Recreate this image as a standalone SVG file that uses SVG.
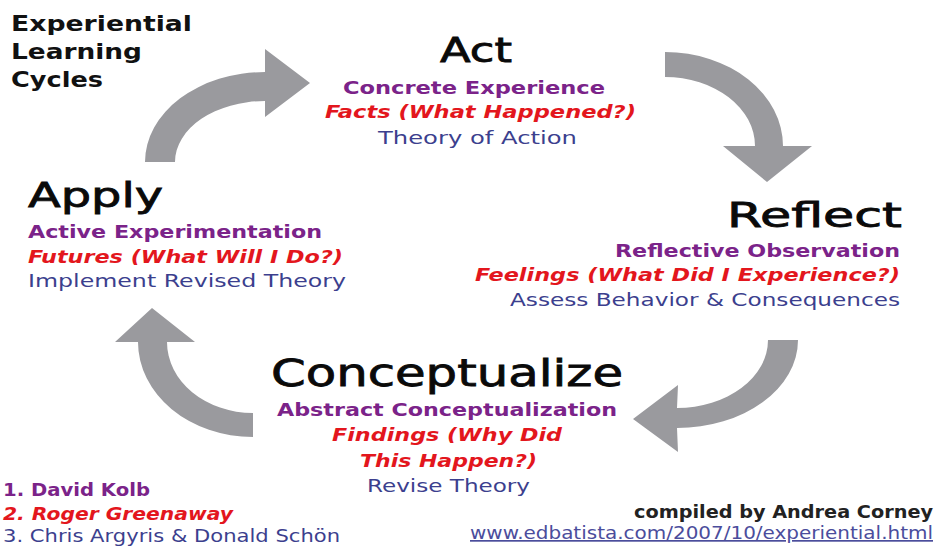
<svg xmlns="http://www.w3.org/2000/svg" width="937" height="548" viewBox="0 0 937 548">
<style>
text{font-family:"DejaVu Sans","Liberation Sans",sans-serif}
.t{font-size:22px;font-weight:bold;fill:#111}
.h{font-size:34px;fill:#0a0a0a;stroke:#0a0a0a;stroke-width:0.8}
.p{font-size:18px;font-weight:bold;fill:#7b2389}
.r{font-size:18px;font-weight:bold;font-style:italic;fill:#e3161d}
.b{font-size:18px;fill:#3c3f8e}
.s{font-size:17px}
.arrow{fill:#9a9a9e}
</style>
<rect width="937" height="548" fill="#fff"/>
<g id="connectors">
<path class="arrow" d="M145,162 A120,90 0 0 1 265,72 L265,49 L310,83 L265,117 L265,101 A90,61 0 0 0 175,162 Z"/>
<path class="arrow" d="M665,52 A118,94 0 0 1 783,146 L812,146 L767,182 L723,146 L755,146 A90,69 0 0 0 665,77 Z"/>
<path class="arrow" d="M798,340 A121,88 0 0 1 677,428 L678,452 L633,419 L678,385 L677,408 A91,68 0 0 0 768,340 Z"/>
<path class="arrow" d="M253,437 A115,95 0 0 1 138,342 L115,342 L152,308 L195,342 L167,342 A86,71 0 0 0 253,413 Z"/>
</g>
<g id="title">
<text class="t" x="11" y="31" textLength="181" lengthAdjust="spacingAndGlyphs">Experiential</text>
<text class="t" x="11" y="59" textLength="131" lengthAdjust="spacingAndGlyphs">Learning</text>
<text class="t" x="11" y="87" textLength="92" lengthAdjust="spacingAndGlyphs">Cycles</text>
</g>
<g id="act">
<text class="h" x="440" y="62" textLength="72" lengthAdjust="spacingAndGlyphs">Act</text>
<text class="p" x="343" y="94" textLength="262" lengthAdjust="spacingAndGlyphs">Concrete Experience</text>
<text class="r" x="325" y="118" textLength="311" lengthAdjust="spacingAndGlyphs">Facts (What Happened?)</text>
<text class="b" x="378" y="144" textLength="199" lengthAdjust="spacingAndGlyphs">Theory of Action</text>
</g>
<g id="reflect">
<text class="h" x="727" y="227" textLength="175" lengthAdjust="spacingAndGlyphs">Reflect</text>
<text class="p" x="615" y="257" textLength="285" lengthAdjust="spacingAndGlyphs">Reflective Observation</text>
<text class="r" x="475" y="281" textLength="425" lengthAdjust="spacingAndGlyphs">Feelings (What Did I Experience?)</text>
<text class="b" x="510" y="306" textLength="390" lengthAdjust="spacingAndGlyphs">Assess Behavior &amp; Consequences</text>
</g>
<g id="conceptualize">
<text class="h" x="271" y="386" style="font-size:38px" textLength="352" lengthAdjust="spacingAndGlyphs">Conceptualize</text>
<text class="p" x="277" y="416" textLength="340" lengthAdjust="spacingAndGlyphs">Abstract Conceptualization</text>
<text class="r" x="332" y="441" textLength="230" lengthAdjust="spacingAndGlyphs">Findings (Why Did</text>
<text class="r" x="360" y="467" textLength="177" lengthAdjust="spacingAndGlyphs">This Happen?)</text>
<text class="b" x="367" y="492" textLength="163" lengthAdjust="spacingAndGlyphs">Revise Theory</text>
</g>
<g id="apply">
<text class="h" x="28" y="207" textLength="135" lengthAdjust="spacingAndGlyphs">Apply</text>
<text class="p" x="28" y="238" textLength="294" lengthAdjust="spacingAndGlyphs">Active Experimentation</text>
<text class="r" x="28" y="263" textLength="315" lengthAdjust="spacingAndGlyphs">Futures (What Will I Do?)</text>
<text class="b" x="28" y="287" textLength="318" lengthAdjust="spacingAndGlyphs">Implement Revised Theory</text>
</g>
<g id="sources">
<text class="p s" x="3" y="496" textLength="147" lengthAdjust="spacingAndGlyphs">1. David Kolb</text>
<text class="r s" x="3" y="520" textLength="230" lengthAdjust="spacingAndGlyphs">2. Roger Greenaway</text>
<text class="b s" x="3" y="542" textLength="337" lengthAdjust="spacingAndGlyphs">3. Chris Argyris &amp; Donald Schön</text>
</g>
<g id="credit">
<text x="634" y="518" style="font-size:17px;font-weight:bold;fill:#222" textLength="299" lengthAdjust="spacingAndGlyphs">compiled by Andrea Corney</text>
<text x="470" y="539" style="font-size:17px;fill:#4b4d9c;text-decoration:underline" textLength="463" lengthAdjust="spacingAndGlyphs">www.edbatista.com/2007/10/experiential.html</text>
</g>
</svg>
